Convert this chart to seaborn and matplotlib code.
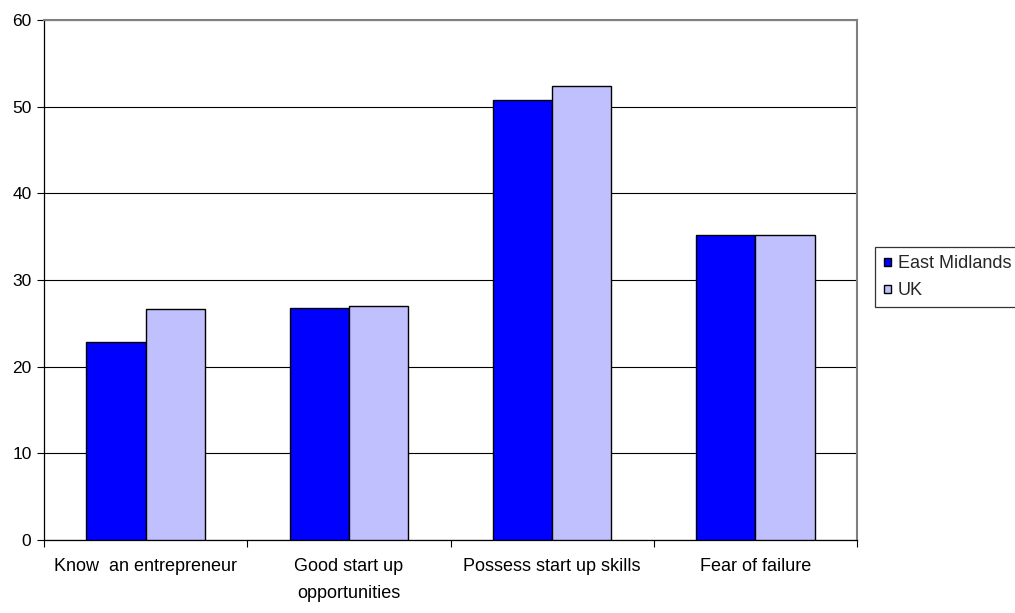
import matplotlib
matplotlib.use("Agg")
import matplotlib.pyplot as plt
from matplotlib.patches import Rectangle
from matplotlib.legend_handler import HandlerPatch
import seaborn as sns
import pandas as pd

categories = ["Know  an entrepreneur", "Good start up\nopportunities",
              "Possess start up skills", "Fear of failure"]
east_midlands = [22.9, 26.8, 50.8, 35.2]
uk = [26.6, 27.0, 52.4, 35.2]
series_names = ["East Midlands", "UK"]
y_ticks = [0, 10, 20, 30, 40, 50, 60]

df = pd.DataFrame({
    "category": categories * 2,
    "value": east_midlands + uk,
    "series": [series_names[0]] * 4 + [series_names[1]] * 4,
})

sns.set_theme(style="white")
plt.rcParams["font.family"] = ["Liberation Sans", "DejaVu Sans"]
plt.rcParams["font.size"] = 13

fig = plt.figure(figsize=(10.15, 6.13), dpi=100)
ax = fig.add_axes([44 / 1015, 73 / 613, 813 / 1015, 520 / 613])

palette = {"East Midlands": "#0000FF", "UK": "#C0C0FF"}
sns.barplot(data=df, x="category", y="value", hue="series", order=categories,
            hue_order=series_names, palette=palette, width=0.584,
            edgecolor="black", linewidth=1.0, saturation=1, ax=ax, zorder=3)

ax.set_ylim(0, 60)
ax.set_xlim(-0.5, 3.5)
ax.set_yticks(y_ticks)
ax.set_yticklabels([str(t) for t in y_ticks], fontsize=12.5, color="black")
ax.yaxis.grid(True, color="black", linewidth=0.8, zorder=0)
ax.set_axisbelow(True)
ax.set_xlabel("")
ax.set_ylabel("")

# category labels centred, tick marks at category boundaries
ax.set_xticks(range(len(categories)))
ax.set_xticklabels(categories, fontsize=13, color="black", linespacing=1.75)
ax.set_xticks([i - 0.5 for i in range(len(categories) + 1)], minor=True)
ax.tick_params(axis="x", which="major", length=0, pad=13)
ax.tick_params(axis="x", which="minor", length=5, width=0.8, color="black",
               direction="out", bottom=True)
ax.tick_params(axis="y", which="major", length=5, width=0.8, color="black",
               direction="out", left=True, pad=4)

for side in ["left", "bottom"]:
    ax.spines[side].set_color("black")
    ax.spines[side].set_linewidth(0.9)
for side in ["top", "right"]:
    ax.spines[side].set_visible(True)
    ax.spines[side].set_color("#808080")
    ax.spines[side].set_linewidth(1.5)


def small_square(legend, orig_handle, xdescent, ydescent, width, height, fontsize):
    s = 0.42 * fontsize
    return Rectangle((-xdescent + (width - s) / 2, -ydescent + (height - s) / 2), s, s)


handles, labels = ax.get_legend_handles_labels()
ax.legend_.remove()
leg = fig.legend(handles, labels, loc="upper left",
                 bbox_to_anchor=(875 / 1015, 1 - 247 / 613),
                 frameon=True, fancybox=False, edgecolor="black",
                 fontsize=13, handlelength=0.5, handleheight=0.7,
                 handletextpad=0.3, labelspacing=0.55, borderpad=0.45,
                 borderaxespad=0,
                 handler_map={type(handles[0]): HandlerPatch(patch_func=small_square)})
leg.get_frame().set_linewidth(0.9)

fig.savefig("out.png", dpi=100, facecolor="white")
